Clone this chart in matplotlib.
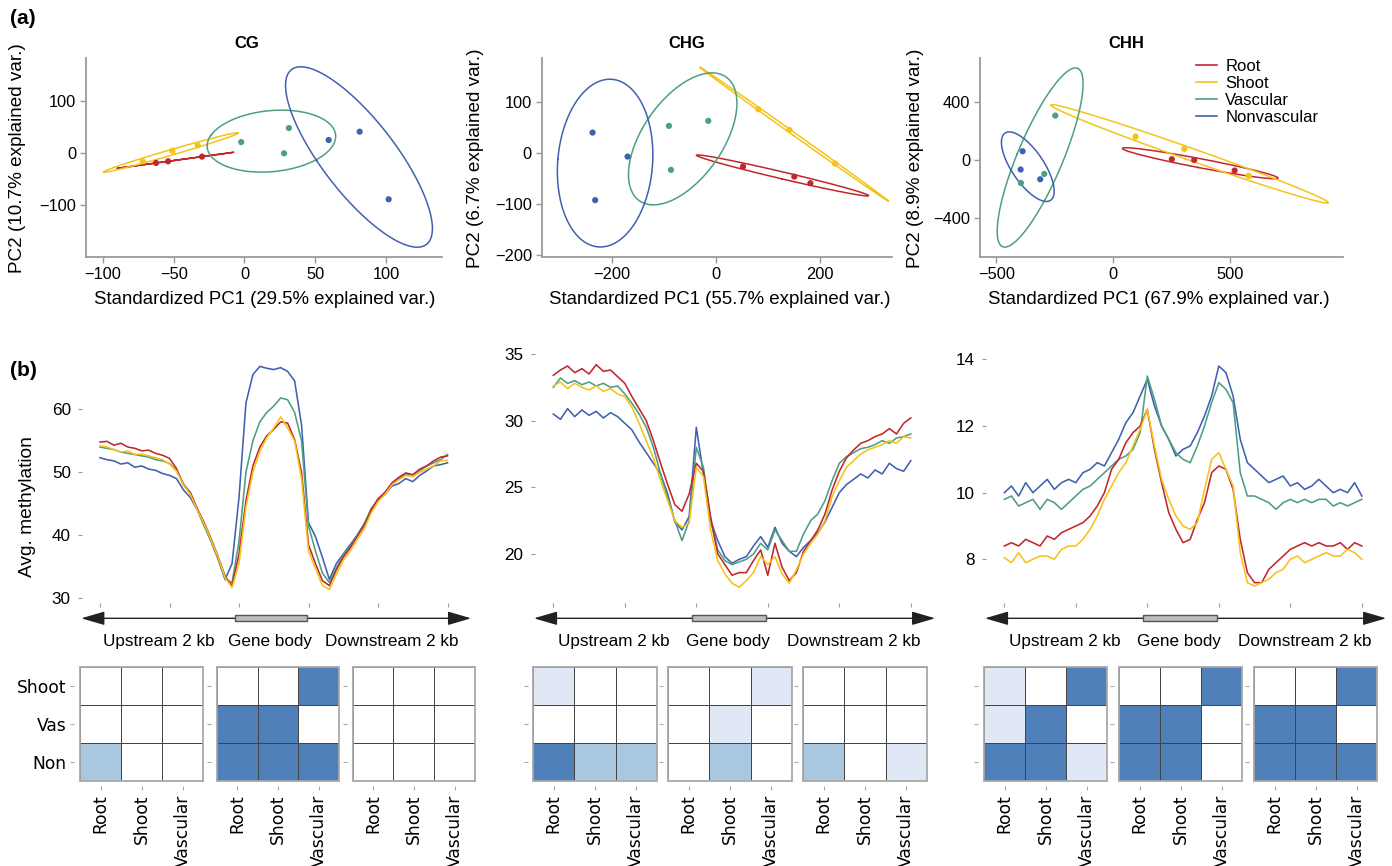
import numpy as np
import matplotlib
matplotlib.use('Agg')
import matplotlib.pyplot as plt
from matplotlib.colors import ListedColormap, BoundaryNorm
from matplotlib.patches import Rectangle, FancyArrowPatch
from matplotlib.lines import Line2D

plt.rcParams['font.family'] = ['Liberation Sans', 'DejaVu Sans']

groups = ['Root', 'Shoot', 'Vascular', 'Nonvascular']
colors = ['#C1272D', '#F4C31A', '#4E9E82', '#4061B0']

# ---- (a) PCA scores, three replicates per tissue ----
cg_root_x = [-62.5, -54.0, -30.0];   cg_root_y = [-19.2, -16.0, -7.0]
cg_shoot_x = [-72.0, -51.0, -33.0];  cg_shoot_y = [-16.0, 4.4, 14.6]
cg_vasc_x = [-2.3, 31.4, 28.0];      cg_vasc_y = [21.0, 48.0, -0.6]
cg_nonv_x = [59.5, 81.4, 101.9];     cg_nonv_y = [25.0, 41.0, -89.0]

chg_root_x = [52.2, 150.7, 181.5];     chg_root_y = [-26.3, -46.0, -59.0]
chg_shoot_x = [81.6, 141.1, 228.9];    chg_shoot_y = [86.4, 45.8, -20.4]
chg_vasc_x = [-89.9, -14.4, -86.0];    chg_vasc_y = [53.6, 63.5, -32.8]
chg_nonv_x = [-236.4, -169.2, -231.4]; chg_nonv_y = [40.5, -6.7, -92.3]

chh_root_x = [251.0, 346.6, 519.5];    chh_root_y = [7.0, 2.0, -71.0]
chh_shoot_x = [95.8, 303.8, 579.4];    chh_shoot_y = [163.0, 78.0, -108.0]
chh_vasc_x = [-248.0, -295.0, -395.0]; chh_vasc_y = [308.0, -94.5, -157.0]
chh_nonv_x = [-387.7, -396.2, -312.4]; chh_nonv_y = [62.0, -64.0, -131.0]

pca_titles = ['CG', 'CHG', 'CHH']
pc1_var = ['29.5', '55.7', '67.9']
pc2_var = ['10.7', '6.7', '8.9']

# ---- (b) methylation profiles (bins across upstream / gene body / downstream) ----
cg_root = [54.8, 54.9, 54.3, 54.6, 54.0, 53.8, 53.4, 53.5, 53.0, 52.7, 52.2, 50.6, 48.0, 46.8, 44.2, 42.0, 39.4, 36.6, 33.5, 32.0,
           37.0, 45.5, 51.0, 54.0, 55.8, 56.8, 58.0, 57.8, 55.2, 50.0, 38.5, 35.5, 32.8, 32.0, 34.5, 36.5, 38.0, 39.8, 41.5, 44.0,
           45.8, 46.8, 48.3, 49.2, 49.9, 49.6, 50.5, 51.0, 51.8, 52.4, 52.6]
cg_shoot = [54.2, 54.0, 53.6, 53.2, 53.4, 52.8, 52.9, 52.6, 52.3, 52.0, 51.3, 50.2, 48.0, 46.5, 44.0, 41.8, 39.2, 36.5, 33.3, 31.7,
            35.5, 44.5, 50.0, 53.3, 55.5, 57.0, 58.8, 57.0, 55.0, 49.0, 37.5, 34.8, 32.0, 31.4, 33.8, 36.0, 37.5, 39.3, 41.0, 43.5,
            45.3, 46.5, 48.0, 48.8, 49.5, 49.3, 50.0, 50.5, 51.0, 51.8, 51.9]
cg_vasc = [54.0, 53.8, 53.6, 53.2, 53.0, 52.8, 52.6, 52.4, 52.0, 51.8, 51.4, 50.3, 48.2, 46.6, 44.1, 41.6, 39.0, 36.3, 33.0, 32.5,
           39.0, 50.0, 55.0, 58.0, 59.5, 60.5, 61.8, 61.5, 59.5, 55.0, 41.5, 37.5, 34.0, 32.5, 34.8, 36.8, 38.2, 40.0, 41.6, 44.2,
           45.5, 46.8, 48.2, 49.0, 49.7, 49.6, 50.2, 51.0, 51.5, 52.0, 52.8]
cg_nonv = [52.3, 52.0, 51.8, 51.3, 51.5, 50.8, 51.0, 50.5, 50.3, 49.8, 49.5, 49.0, 47.2, 46.0, 44.0, 41.5, 39.0, 36.2, 33.0, 35.5,
           46.0, 61.0, 65.5, 66.8, 66.5, 66.3, 66.6, 66.0, 64.5, 57.5, 42.0, 39.8, 36.5, 33.0, 35.5, 37.0, 38.5, 40.0, 41.8, 44.0,
           45.5, 46.5, 47.8, 48.2, 49.0, 48.5, 49.5, 50.2, 51.0, 51.2, 51.5]

chg_root = [33.4, 33.8, 34.1, 33.6, 33.9, 33.5, 34.2, 33.7, 33.8, 33.3, 32.8, 31.8, 30.9, 30.0, 28.5, 26.8, 25.2, 23.7, 23.2, 24.5,
            26.8, 26.2, 22.8, 20.0, 19.2, 18.4, 18.6, 18.6, 19.5, 20.3, 18.4, 20.8, 19.0, 18.0, 18.6, 20.2, 21.0, 21.8, 23.0, 24.8,
            26.2, 27.2, 27.8, 28.3, 28.5, 28.8, 29.0, 29.4, 29.0, 29.8, 30.2]
chg_shoot = [32.6, 32.9, 32.4, 32.8, 32.5, 32.3, 32.6, 32.2, 32.4, 32.0, 31.8, 31.0, 29.8, 28.5, 27.2, 25.5, 24.0, 22.5, 22.0, 22.3,
             26.5, 25.8, 21.8, 19.5, 18.5, 17.8, 17.5, 18.0, 18.6, 19.8, 19.2, 19.8, 18.5, 17.8, 18.8, 20.0, 20.8, 21.5, 22.5, 24.3,
             25.5, 26.5, 27.0, 27.5, 27.8, 28.0, 28.2, 28.5, 28.3, 28.8, 28.7]
chg_vasc = [32.5, 33.2, 32.8, 33.0, 32.7, 32.9, 32.6, 32.8, 32.5, 32.6, 32.0, 31.3, 30.5, 29.5, 28.0, 26.0, 24.2, 22.5, 21.0, 22.5,
            28.0, 26.5, 22.5, 20.3, 19.5, 19.2, 19.4, 19.6, 20.0, 20.8, 20.3, 21.8, 21.0, 20.2, 20.2, 21.5, 22.5, 23.0, 24.0, 25.5,
            26.8, 27.3, 27.6, 27.9, 28.0, 28.2, 28.5, 28.3, 28.7, 28.8, 29.0]
chg_nonv = [30.5, 30.1, 30.9, 30.3, 30.8, 30.4, 30.7, 30.2, 30.6, 30.3, 29.8, 29.3, 28.4, 27.6, 26.8, 26.0, 24.5, 22.4, 21.8, 22.8,
            29.5, 26.0, 22.5, 21.0, 19.8, 19.3, 19.6, 19.8, 20.6, 21.3, 20.5, 22.0, 20.8, 20.2, 19.8, 20.5, 21.0, 21.6, 22.4, 23.5,
            24.6, 25.2, 25.6, 26.0, 25.7, 26.3, 26.0, 26.8, 26.4, 26.2, 27.0]

chh_root = [8.4, 8.5, 8.4, 8.6, 8.5, 8.4, 8.7, 8.6, 8.8, 8.9, 9.0, 9.1, 9.3, 9.6, 10.0, 10.7, 11.0, 11.5, 11.8, 12.0,
            12.5, 11.3, 10.3, 9.4, 8.9, 8.5, 8.6, 9.2, 9.7, 10.6, 10.8, 10.7, 10.1, 8.6, 7.6, 7.3, 7.3, 7.7, 7.9, 8.1,
            8.3, 8.4, 8.5, 8.4, 8.5, 8.4, 8.4, 8.5, 8.3, 8.5, 8.4]
chh_shoot = [8.05, 7.9, 8.2, 7.9, 8.0, 8.1, 8.1, 8.0, 8.3, 8.4, 8.4, 8.6, 8.9, 9.3, 9.8, 10.2, 10.6, 10.9, 11.4, 11.9,
             12.5, 11.4, 10.4, 9.8, 9.3, 9.0, 8.9, 9.1, 10.1, 11.0, 11.2, 10.7, 10.2, 8.2, 7.3, 7.2, 7.3, 7.4, 7.6, 7.7,
             8.0, 8.1, 7.9, 8.0, 8.1, 8.2, 8.1, 8.1, 8.3, 8.2, 8.0]
chh_vasc = [9.8, 9.9, 9.6, 9.7, 9.8, 9.5, 9.8, 9.7, 9.5, 9.7, 9.9, 10.1, 10.2, 10.4, 10.6, 10.8, 11.0, 11.1, 11.3, 11.8,
            13.5, 12.8, 12.0, 11.6, 11.2, 11.0, 10.9, 11.4, 12.0, 12.7, 13.3, 13.1, 12.7, 10.6, 9.9, 9.9, 9.8, 9.7, 9.5, 9.7,
            9.8, 9.7, 9.8, 9.7, 9.8, 9.8, 9.6, 9.7, 9.6, 9.7, 9.8]
chh_nonv = [10.0, 10.2, 9.9, 10.3, 10.0, 10.2, 10.4, 10.1, 10.3, 10.4, 10.3, 10.6, 10.7, 10.9, 10.8, 11.2, 11.6, 12.1, 12.4, 12.9,
            13.4, 12.6, 12.0, 11.6, 11.1, 11.3, 11.4, 11.8, 12.3, 12.9, 13.8, 13.6, 12.9, 11.6, 10.9, 10.7, 10.5, 10.3, 10.4, 10.5,
            10.2, 10.3, 10.1, 10.2, 10.4, 10.2, 10.0, 10.1, 10.0, 10.3, 9.9]

prof_yticks = [[30, 40, 50, 60], [20, 25, 30, 35], [8, 10, 12, 14]]
region_labels = ['Upstream 2 kb', 'Gene body', 'Downstream 2 kb']

# ---- (b) significance heatmaps: rows Shoot/Vas/Non, cols Root/Shoot/Vascular ----
hm_rows = ['Shoot', 'Vas', 'Non']
hm_cols = ['Root', 'Shoot', 'Vascular']
cg_up = [[0, 0, 0], [0, 0, 0], [2, 0, 0]]
cg_body = [[0, 0, 3], [3, 3, 0], [3, 3, 3]]
cg_down = [[0, 0, 0], [0, 0, 0], [0, 0, 0]]
chg_up = [[1, 0, 0], [0, 0, 0], [3, 2, 2]]
chg_body = [[0, 0, 1], [0, 1, 0], [0, 2, 0]]
chg_down = [[0, 0, 0], [0, 0, 0], [2, 0, 1]]
chh_up = [[1, 0, 3], [1, 3, 0], [3, 3, 1]]
chh_body = [[0, 0, 3], [3, 3, 0], [3, 3, 0]]
chh_down = [[0, 0, 3], [3, 3, 0], [3, 3, 3]]

W, H = 1392, 866
fig = plt.figure(figsize=(W / 100, H / 100), dpi=100)


def px_axes(l, t, r, b):
    return fig.add_axes([l / W, 1 - b / H, (r - l) / W, (b - t) / H])


def ftext(x, y, s, **kw):
    fig.text(x / W, 1 - y / H, s, **kw)


def ellipse(x, y, scale=2.4477):
    pts = np.vstack([x, y])
    mu = pts.mean(axis=1)
    vals, vecs = np.linalg.eigh(np.cov(pts))
    t = np.linspace(0, 2 * np.pi, 240)
    e = vecs @ np.diag(np.sqrt(np.maximum(vals, 0))) @ np.vstack([np.cos(t), np.sin(t)]) * scale
    return mu[0] + e[0], mu[1] + e[1]


# ---------------- (a) PCA ----------------
pca_sets = [
    [(cg_root_x, cg_root_y), (cg_shoot_x, cg_shoot_y), (cg_vasc_x, cg_vasc_y), (cg_nonv_x, cg_nonv_y)],
    [(chg_root_x, chg_root_y), (chg_shoot_x, chg_shoot_y), (chg_vasc_x, chg_vasc_y), (chg_nonv_x, chg_nonv_y)],
    [(chh_root_x, chh_root_y), (chh_shoot_x, chh_shoot_y), (chh_vasc_x, chh_vasc_y), (chh_nonv_x, chh_nonv_y)],
]
pca_px = [(86, 442), (541.7, 891.7), (980, 1342.7)]
pca_xlim = [(-112, 139.6), (-334, 337.6), (-570, 982)]
pca_ylim = [(-200, 182.7), (-204, 187), (-667, 705)]
pca_xticks = [[-100, -50, 0, 50, 100], [-200, 0, 200], [-500, 0, 500]]
pca_yticks = [[-100, 0, 100], [-200, -100, 0, 100], [-400, 0, 400]]
title_x = [247, 687, 1126]
xlab_x = [265, 720, 1159]
ylab_x = [18, 475, 915]

for k in range(3):
    l, r = pca_px[k]
    ax = px_axes(l, 58, r, 257)
    for (gx, gy), c in zip(pca_sets[k], colors):
        ax.scatter(gx, gy, s=20, color=c, edgecolors='none', zorder=3)
        ex, ey = ellipse(np.array(gx), np.array(gy))
        ax.plot(ex, ey, color=c, lw=1.1, zorder=2)
    ax.set_xlim(pca_xlim[k])
    ax.set_ylim(pca_ylim[k])
    ax.set_xticks(pca_xticks[k])
    ax.set_yticks(pca_yticks[k])
    for s in ['top', 'right']:
        ax.spines[s].set_visible(False)
    for s in ['left', 'bottom']:
        ax.spines[s].set_color('#9a9a9a')
        ax.spines[s].set_linewidth(1.3)
    ax.tick_params(colors='#9a9a9a', labelcolor='black', labelsize=11.8, length=4, width=1, pad=3)
    ftext(title_x[k], 44, pca_titles[k], ha='center', va='center', fontsize=12, fontweight='bold')
    ftext(xlab_x[k], 300, 'Standardized PC1 (%s%% explained var.)' % pc1_var[k],
          ha='center', va='center', fontsize=13.4)
    ftext(ylab_x[k], 158, 'PC2 (%s%% explained var.)' % pc2_var[k],
          ha='center', va='center', fontsize=13.6, rotation=90)
    if k == 2:
        handles = [Line2D([], [], color=c, lw=1.2) for c in colors]
        ax.legend(handles, groups, frameon=False, loc='upper left', fontsize=12,
                  bbox_to_anchor=(1196 / W, 1 - 59 / H), bbox_transform=fig.transFigure,
                  handlelength=1.25, handletextpad=0.5, labelspacing=0.12, borderpad=0, borderaxespad=0)

ftext(10, 18, '(a)', ha='left', va='center', fontsize=15, fontweight='bold')
ftext(10, 371, '(b)', ha='left', va='center', fontsize=15, fontweight='bold')

# ---------------- (b) profiles ----------------
bins = np.linspace(0, 5, 51)
profiles = [[cg_root, cg_shoot, cg_vasc, cg_nonv],
            [chg_root, chg_shoot, chg_vasc, chg_nonv],
            [chh_root, chh_shoot, chh_vasc, chh_nonv]]
x0_px = [100, 553.3, 1004.3]
unit_px = [69.5, 71.5, 71.5]
prof_ylim = [(29.25, 69.4), (16.32, 35.3), (6.69, 14.28)]
xl = (-0.26, 5.3)
draw_order = [3, 2, 0, 1]

for k in range(3):
    l = x0_px[k] + xl[0] * unit_px[k]
    r = x0_px[k] + xl[1] * unit_px[k]
    ax = px_axes(l, 350, r, 603)
    for j in draw_order:
        ax.plot(bins, profiles[k][j], color=colors[j], lw=1.15)
    ax.set_xlim(xl)
    ax.set_ylim(prof_ylim[k])
    ax.set_xticks(range(6))
    ax.set_xticklabels([])
    ax.set_yticks(prof_yticks[k])
    for s in ax.spines.values():
        s.set_visible(False)
    ax.tick_params(colors='#999999', labelcolor='black', labelsize=12.3, length=3, width=0.8, pad=5)

    # gene model arrow below
    aa = px_axes(l, 606, r, 655)
    aa.set_xlim(xl)
    aa.set_ylim(655, 606)
    aa.axis('off')
    arr = FancyArrowPatch((-0.31, 618.3), (5.38, 618.3), arrowstyle='<|-|>,head_length=1.2,head_width=0.35',
                          mutation_scale=12, color='#222222', lw=1.0, clip_on=False)
    aa.add_patch(arr)
    aa.add_patch(Rectangle((1.94, 615.3), 1.04, 6, facecolor='#bdbdbd', edgecolor='#555555', lw=1.0,
                           zorder=3, clip_on=False))
    for xp, lab in zip([0.85, 2.45, 4.2], region_labels):
        aa.text(xp, 641.5, lab, ha='center', va='center', fontsize=12.3)

ftext(28, 507, 'Avg. methylation', ha='center', va='center', fontsize=13.8, rotation=90)

# ---------------- (b) heatmaps ----------------
cmap = ListedColormap(['#ffffff', '#e0e8f5', '#a9c8e0', '#5080b9'])
norm = BoundaryNorm([-0.5, 0.5, 1.5, 2.5, 3.5], cmap.N)
hm_data = [[cg_up, cg_body, cg_down], [chg_up, chg_body, chg_down], [chh_up, chh_body, chh_down]]
hm_px = [[(80, 203.3), (216.7, 339.3), (352.7, 475)],
         [(533.3, 656.7), (668.3, 791.7), (803.3, 926.7)],
         [(984, 1107.3), (1119.3, 1242.3), (1254.3, 1377)]]

for k in range(3):
    for m in range(3):
        l, r = hm_px[k][m]
        ax = px_axes(l, 667.3, r, 780.7)
        ax.pcolormesh(np.array(hm_data[k][m]), cmap=cmap, norm=norm, edgecolors='#444444', linewidth=0.6)
        ax.set_xlim(0, 3)
        ax.set_ylim(3, 0)
        ax.add_patch(Rectangle((0, 0), 1, 1, transform=ax.transAxes, fill=False,
                               edgecolor='#a8a8a8', lw=1.3, clip_on=False, zorder=5))
        for s in ax.spines.values():
            s.set_visible(False)
        for s in ['left', 'bottom']:
            ax.spines[s].set_position(('outward', 4))
        ax.set_xticks([0.5, 1.5, 2.5])
        ax.set_yticks([0.5, 1.5, 2.5])
        ax.set_xticklabels(hm_cols, rotation=90, family='DejaVu Sans', fontsize=12.3)
        if k == 0 and m == 0:
            ax.set_yticklabels(hm_rows, family='DejaVu Sans', fontsize=12.3)
        else:
            ax.set_yticklabels([])
        ax.tick_params(colors='#aaaaaa', labelcolor='black', length=3, width=0.8, pad=3)

fig.savefig('out.png', dpi=100)
